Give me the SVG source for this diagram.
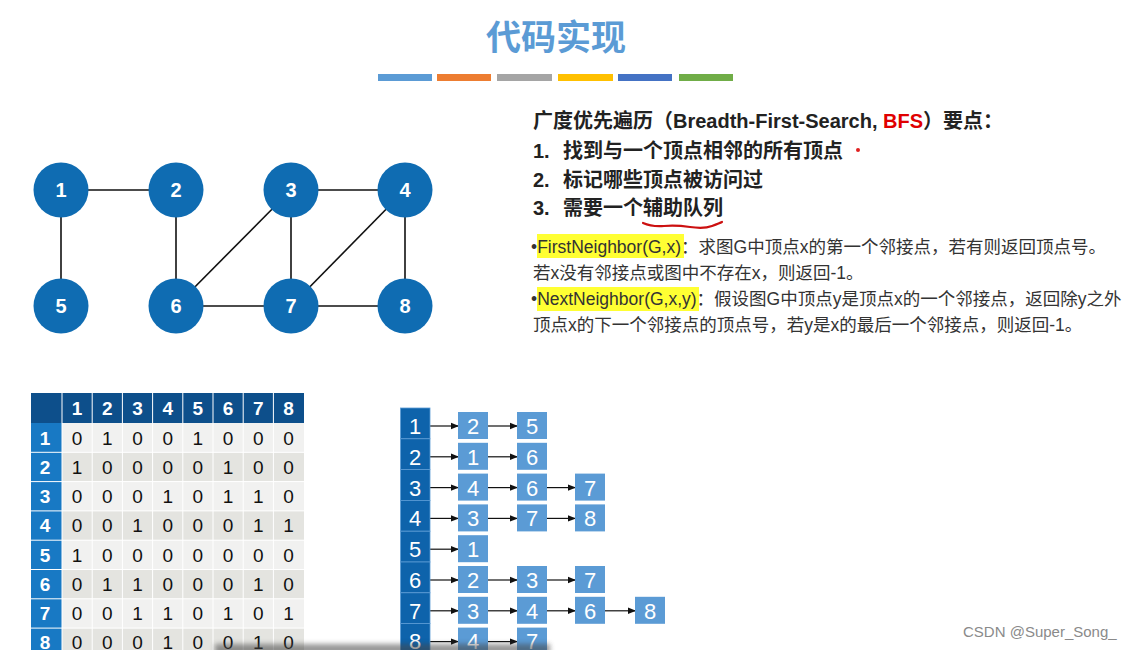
<svg xmlns="http://www.w3.org/2000/svg" width="1140" height="650" viewBox="0 0 1140 650">
<style>
.title{font-family:"Noto Sans CJK SC",sans-serif;font-size:35px;font-weight:bold;fill:#5b9bd5}
.h{font-family:"Liberation Sans","Noto Sans CJK SC",sans-serif;font-size:20px;font-weight:bold;fill:#222}
.b{font-family:"Liberation Sans","Noto Sans CJK SC",sans-serif;font-size:17.5px;fill:#333}
.edge{stroke:#111;stroke-width:1.6}
.gn{fill:#0f6cb2}
.gt{font-family:"Liberation Sans",sans-serif;font-size:20px;font-weight:bold;fill:#fff;text-anchor:middle}
.mh{fill:#0d4f8b}
.mr{fill:#1879c4}
.c1{fill:#f1f1f0}
.c2{fill:#e4e4e0}
.mt{font-family:"Liberation Sans",sans-serif;font-size:19px;fill:#111;text-anchor:middle}
.mht{font-family:"Liberation Sans",sans-serif;font-size:19px;font-weight:bold;fill:#fff;text-anchor:middle}
.lh{fill:#0e63ab;stroke:#5b9bd5;stroke-width:0.8}
.lb{fill:#5b9bd5}
.lt{font-family:"Liberation Sans",sans-serif;font-size:22px;fill:#fff;text-anchor:middle}
.arr{stroke:#111;stroke-width:1.2;marker-end:url(#ah)}
.wm{font-family:"Liberation Sans",sans-serif;font-size:15px;fill:#8a8a8a}
</style>
<defs>
<marker id="ah" markerWidth="8" markerHeight="8" refX="7" refY="4" orient="auto" markerUnits="userSpaceOnUse">
<path d="M0,0.8 L8,4 L0,7.2 Z" fill="#111"/>
</marker>
<filter id="blur" x="-10%" y="-100%" width="120%" height="300%"><feGaussianBlur stdDeviation="2.5"/></filter>
</defs>
<rect width="1140" height="650" fill="#fff"/>

<g id="title">
<text class="title" x="556" y="50" text-anchor="middle">代码实现</text>
<rect x="378" y="74" width="54" height="7" fill="#5b9bd5"/>
<rect x="437" y="74" width="54" height="7" fill="#ed7d31"/>
<rect x="497" y="74" width="55" height="7" fill="#a5a5a5"/>
<rect x="558" y="74" width="55" height="7" fill="#ffc000"/>
<rect x="618" y="74" width="54" height="7" fill="#4472c4"/>
<rect x="679" y="74" width="54" height="7" fill="#70ad47"/>
</g>

<g id="points">
<text class="h" x="533" y="128">广度优先遍历（Breadth-First-Search, <tspan fill="#e00000">BFS</tspan>）要点：</text>
<text class="h" x="533" y="158">1.<tspan x="563">找到与一个顶点相邻的所有顶点</tspan></text>
<circle cx="858" cy="150" r="2" fill="#e02020"/>
<text class="h" x="533" y="187">2.<tspan x="563">标记哪些顶点被访问过</tspan></text>
<text class="h" x="533" y="215">3.<tspan x="563">需要一个辅助队列</tspan></text>
<path d="M643,223 Q652,227 664,226 T690,227 T712,226 T722,222" fill="none" stroke="#cc1010" stroke-width="2.2" stroke-linecap="round"/>
</g>

<g id="ops">
<rect x="537" y="234" width="147" height="24" fill="#ffff33"/>
<rect x="537" y="287" width="162" height="24" fill="#ffff33"/>
<text class="b" x="531" y="253">•FirstNeighbor(G,x)：求图G中顶点x的第一个邻接点，若有则返回顶点号。</text>
<text class="b" x="533" y="279">若x没有邻接点或图中不存在x，则返回-1。</text>
<text class="b" x="531" y="305">•NextNeighbor(G,x,y)：假设图G中顶点y是顶点x的一个邻接点，返回除y之外</text>
<text class="b" x="533" y="331">顶点x的下一个邻接点的顶点号，若y是x的最后一个邻接点，则返回-1。</text>
</g>

<g id="edges">
<line class="edge" x1="61" y1="190" x2="176" y2="190"/>
<line class="edge" x1="61" y1="190" x2="61" y2="306"/>
<line class="edge" x1="176" y1="190" x2="176" y2="306"/>
<line class="edge" x1="291" y1="190" x2="405" y2="190"/>
<line class="edge" x1="291" y1="190" x2="176" y2="306"/>
<line class="edge" x1="291" y1="190" x2="291" y2="306"/>
<line class="edge" x1="405" y1="190" x2="291" y2="306"/>
<line class="edge" x1="405" y1="190" x2="405" y2="306"/>
<line class="edge" x1="176" y1="306" x2="291" y2="306"/>
<line class="edge" x1="291" y1="306" x2="405" y2="306"/>
</g>
<g id="v1"><circle class="gn" cx="61" cy="190" r="27.5"/><text class="gt" x="61" y="197">1</text></g>
<g id="v2"><circle class="gn" cx="176" cy="190" r="27.5"/><text class="gt" x="176" y="197">2</text></g>
<g id="v3"><circle class="gn" cx="291" cy="190" r="27.5"/><text class="gt" x="291" y="197">3</text></g>
<g id="v4"><circle class="gn" cx="405" cy="190" r="27.5"/><text class="gt" x="405" y="197">4</text></g>
<g id="v5"><circle class="gn" cx="61" cy="306" r="27.5"/><text class="gt" x="61" y="313">5</text></g>
<g id="v6"><circle class="gn" cx="176" cy="306" r="27.5"/><text class="gt" x="176" y="313">6</text></g>
<g id="v7"><circle class="gn" cx="291" cy="306" r="27.5"/><text class="gt" x="291" y="313">7</text></g>
<g id="v8"><circle class="gn" cx="405" cy="306" r="27.5"/><text class="gt" x="405" y="313">8</text></g>

<g id="matrix">
<rect class="mh" x="31" y="393" width="273" height="30"/>
<rect class="mr" x="31" y="423" width="31" height="227"/>
<rect class="c1" x="62" y="423" width="242" height="29.3"/>
<rect class="c2" x="62" y="452.3" width="242" height="29.3"/>
<rect class="c1" x="62" y="481.6" width="242" height="29.3"/>
<rect class="c2" x="62" y="510.9" width="242" height="29.3"/>
<rect class="c1" x="62" y="540.2" width="242" height="29.3"/>
<rect class="c2" x="62" y="569.5" width="242" height="29.3"/>
<rect class="c1" x="62" y="598.8" width="242" height="29.3"/>
<rect class="c2" x="62" y="628.1" width="242" height="22"/>
<g stroke="#ffffff" stroke-width="1">
<line x1="62" y1="393" x2="62" y2="650"/>
<line x1="92.2" y1="393" x2="92.2" y2="650"/>
<line x1="122.4" y1="393" x2="122.4" y2="650"/>
<line x1="152.6" y1="393" x2="152.6" y2="650"/>
<line x1="182.8" y1="393" x2="182.8" y2="650"/>
<line x1="213" y1="393" x2="213" y2="650"/>
<line x1="243.2" y1="393" x2="243.2" y2="650"/>
<line x1="273.4" y1="393" x2="273.4" y2="650"/>
<line x1="31" y1="452.3" x2="304" y2="452.3"/>
<line x1="31" y1="481.6" x2="304" y2="481.6"/>
<line x1="31" y1="510.9" x2="304" y2="510.9"/>
<line x1="31" y1="540.2" x2="304" y2="540.2"/>
<line x1="31" y1="569.5" x2="304" y2="569.5"/>
<line x1="31" y1="598.8" x2="304" y2="598.8"/>
<line x1="31" y1="628.1" x2="304" y2="628.1"/>
</g>
<g class="mht">
<text x="77" y="415">1</text><text x="107.3" y="415">2</text><text x="137.5" y="415">3</text><text x="167.7" y="415">4</text><text x="197.9" y="415">5</text><text x="228.1" y="415">6</text><text x="258.3" y="415">7</text><text x="288.5" y="415">8</text>
<text x="45" y="444.5">1</text><text x="45" y="473.8">2</text><text x="45" y="503.1">3</text><text x="45" y="532.4">4</text><text x="45" y="561.7">5</text><text x="45" y="591">6</text><text x="45" y="620.3">7</text><text x="45" y="649">8</text>
</g>
<g class="mt">
<text x="77" y="444.5">0</text><text x="107.3" y="444.5">1</text><text x="137.5" y="444.5">0</text><text x="167.7" y="444.5">0</text><text x="197.9" y="444.5">1</text><text x="228.1" y="444.5">0</text><text x="258.3" y="444.5">0</text><text x="288.5" y="444.5">0</text>
<text x="77" y="473.8">1</text><text x="107.3" y="473.8">0</text><text x="137.5" y="473.8">0</text><text x="167.7" y="473.8">0</text><text x="197.9" y="473.8">0</text><text x="228.1" y="473.8">1</text><text x="258.3" y="473.8">0</text><text x="288.5" y="473.8">0</text>
<text x="77" y="503.1">0</text><text x="107.3" y="503.1">0</text><text x="137.5" y="503.1">0</text><text x="167.7" y="503.1">1</text><text x="197.9" y="503.1">0</text><text x="228.1" y="503.1">1</text><text x="258.3" y="503.1">1</text><text x="288.5" y="503.1">0</text>
<text x="77" y="532.4">0</text><text x="107.3" y="532.4">0</text><text x="137.5" y="532.4">1</text><text x="167.7" y="532.4">0</text><text x="197.9" y="532.4">0</text><text x="228.1" y="532.4">0</text><text x="258.3" y="532.4">1</text><text x="288.5" y="532.4">1</text>
<text x="77" y="561.7">1</text><text x="107.3" y="561.7">0</text><text x="137.5" y="561.7">0</text><text x="167.7" y="561.7">0</text><text x="197.9" y="561.7">0</text><text x="228.1" y="561.7">0</text><text x="258.3" y="561.7">0</text><text x="288.5" y="561.7">0</text>
<text x="77" y="591">0</text><text x="107.3" y="591">1</text><text x="137.5" y="591">1</text><text x="167.7" y="591">0</text><text x="197.9" y="591">0</text><text x="228.1" y="591">0</text><text x="258.3" y="591">1</text><text x="288.5" y="591">0</text>
<text x="77" y="620.3">0</text><text x="107.3" y="620.3">0</text><text x="137.5" y="620.3">1</text><text x="167.7" y="620.3">1</text><text x="197.9" y="620.3">0</text><text x="228.1" y="620.3">1</text><text x="258.3" y="620.3">0</text><text x="288.5" y="620.3">1</text>
<text x="77" y="649">0</text><text x="107.3" y="649">0</text><text x="137.5" y="649">0</text><text x="167.7" y="649">1</text><text x="197.9" y="649">0</text><text x="228.1" y="649">0</text><text x="258.3" y="649">1</text><text x="288.5" y="649">0</text>
</g>
</g>

<g id="adjlist-arrows">
<line class="arr" x1="430" y1="426" x2="458" y2="426"/><line class="arr" x1="488" y1="426" x2="517" y2="426"/>
<line class="arr" x1="430" y1="456.8" x2="458" y2="456.8"/><line class="arr" x1="488" y1="456.8" x2="517" y2="456.8"/>
<line class="arr" x1="430" y1="487.6" x2="458" y2="487.6"/><line class="arr" x1="488" y1="487.6" x2="517" y2="487.6"/><line class="arr" x1="547" y1="487.6" x2="575" y2="487.6"/>
<line class="arr" x1="430" y1="518.4" x2="458" y2="518.4"/><line class="arr" x1="488" y1="518.4" x2="517" y2="518.4"/><line class="arr" x1="547" y1="518.4" x2="575" y2="518.4"/>
<line class="arr" x1="430" y1="549.2" x2="458" y2="549.2"/>
<line class="arr" x1="430" y1="580" x2="458" y2="580"/><line class="arr" x1="488" y1="580" x2="517" y2="580"/><line class="arr" x1="547" y1="580" x2="575" y2="580"/>
<line class="arr" x1="430" y1="610.8" x2="458" y2="610.8"/><line class="arr" x1="488" y1="610.8" x2="517" y2="610.8"/><line class="arr" x1="547" y1="610.8" x2="575" y2="610.8"/><line class="arr" x1="605" y1="610.8" x2="635" y2="610.8"/>
<line class="arr" x1="430" y1="641.6" x2="458" y2="641.6"/><line class="arr" x1="488" y1="641.6" x2="517" y2="641.6"/>
</g>

<g id="adjlist-heads">
<rect class="lh" x="400.5" y="408" width="29.5" height="30.8"/>
<rect class="lh" x="400.5" y="438.8" width="29.5" height="30.8"/>
<rect class="lh" x="400.5" y="469.6" width="29.5" height="30.8"/>
<rect class="lh" x="400.5" y="500.4" width="29.5" height="30.8"/>
<rect class="lh" x="400.5" y="531.2" width="29.5" height="30.8"/>
<rect class="lh" x="400.5" y="562" width="29.5" height="30.8"/>
<rect class="lh" x="400.5" y="592.8" width="29.5" height="30.8"/>
<rect class="lh" x="400.5" y="623.6" width="29.5" height="30.8"/>
<g class="lt">
<text x="415" y="434">1</text><text x="415" y="464.8">2</text><text x="415" y="495.6">3</text><text x="415" y="526.4">4</text><text x="415" y="557.2">5</text><text x="415" y="588">6</text><text x="415" y="618.8">7</text><text x="415" y="649">8</text>
</g>
</g>

<g id="adjlist-row1"><rect class="lb" x="458" y="412" width="30" height="27"/><rect class="lb" x="517" y="412" width="30" height="27"/><text class="lt" x="473" y="434">2</text><text class="lt" x="532" y="434">5</text></g>
<g id="adjlist-row2"><rect class="lb" x="458" y="442.8" width="30" height="27"/><rect class="lb" x="517" y="442.8" width="30" height="27"/><text class="lt" x="473" y="464.8">1</text><text class="lt" x="532" y="464.8">6</text></g>
<g id="adjlist-row3"><rect class="lb" x="458" y="473.6" width="30" height="27"/><rect class="lb" x="517" y="473.6" width="30" height="27"/><rect class="lb" x="575" y="473.6" width="30" height="27"/><text class="lt" x="473" y="495.6">4</text><text class="lt" x="532" y="495.6">6</text><text class="lt" x="590" y="495.6">7</text></g>
<g id="adjlist-row4"><rect class="lb" x="458" y="504.4" width="30" height="27"/><rect class="lb" x="517" y="504.4" width="30" height="27"/><rect class="lb" x="575" y="504.4" width="30" height="27"/><text class="lt" x="473" y="526.4">3</text><text class="lt" x="532" y="526.4">7</text><text class="lt" x="590" y="526.4">8</text></g>
<g id="adjlist-row5"><rect class="lb" x="458" y="535.2" width="30" height="27"/><text class="lt" x="473" y="557.2">1</text></g>
<g id="adjlist-row6"><rect class="lb" x="458" y="566" width="30" height="27"/><rect class="lb" x="517" y="566" width="30" height="27"/><rect class="lb" x="575" y="566" width="30" height="27"/><text class="lt" x="473" y="588">2</text><text class="lt" x="532" y="588">3</text><text class="lt" x="590" y="588">7</text></g>
<g id="adjlist-row7"><rect class="lb" x="458" y="596.8" width="30" height="27"/><rect class="lb" x="517" y="596.8" width="30" height="27"/><rect class="lb" x="575" y="596.8" width="30" height="27"/><rect class="lb" x="635" y="596.8" width="30" height="27"/><text class="lt" x="473" y="618.8">3</text><text class="lt" x="532" y="618.8">4</text><text class="lt" x="590" y="618.8">6</text><text class="lt" x="650" y="618.8">8</text></g>
<g id="adjlist-row8"><rect class="lb" x="458" y="627.6" width="30" height="27"/><rect class="lb" x="517" y="627.6" width="30" height="27"/><text class="lt" x="473" y="649">4</text><text class="lt" x="532" y="649">7</text></g>

<rect x="215" y="644" width="335" height="10" fill="#444" opacity="0.55" filter="url(#blur)"/>

<text class="wm" x="963" y="637">CSDN @Super_Song_</text>
</svg>
